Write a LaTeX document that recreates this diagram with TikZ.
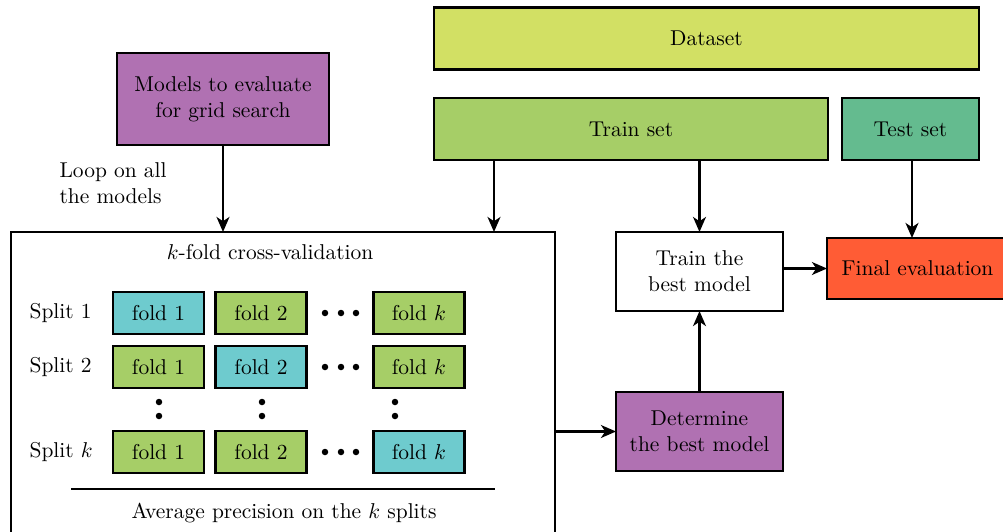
\documentclass[tikz,border=0pt]{standalone}
\usetikzlibrary{arrows.meta}
\definecolor{dscol}{HTML}{D2E064}
\definecolor{trcol}{HTML}{A6CE67}
\definecolor{tecol}{HTML}{64BB8F}
\definecolor{pucol}{HTML}{B071B2}
\definecolor{fecol}{HTML}{FF5C35}
\definecolor{cycol}{HTML}{6ECBCE}
\def\pu{0.466pt}
\tikzset{
  box/.style={draw, line width=1.35pt, inner sep=0pt, outer sep=0pt, align=center},
  fold/.style={box, minimum width=91*\pu, minimum height=42*\pu},
  gfold/.style={fold, fill=trcol},
  cfold/.style={fold, fill=cycol},
  arr/.style={line width=1.15pt, -{Stealth[length=7pt,width=6pt,inset=2pt]}},
  dot/.style={circle, fill=black, inner sep=0pt, minimum size=6.5*\pu},
}
\begin{document}
\begin{tikzpicture}[x=0.466pt,y=-0.466pt]
\useasboundingbox (0,0) rectangle (1003,532);
\clip (0,0) rectangle (1003,532);
% top boxes
\node[box, fill=dscol, minimum width=545*\pu, minimum height=62*\pu] (ds) at (706.5,38.5) {Dataset};
\node[box, fill=trcol, minimum width=394*\pu, minimum height=62*\pu] (train) at (631,129) {Train set};
\node[box, fill=tecol, minimum width=137*\pu, minimum height=62*\pu] (test) at (910.5,129) {Test set};
\node[box, fill=pucol, minimum width=212*\pu, minimum height=92*\pu] (models) at (223,99) {Models to evaluate\\for grid search};
\node[align=left, anchor=west] (loop) at (52,183) {Loop on all\\the models};
% big cv box
\node[box, minimum width=544*\pu, minimum height=316*\pu] (cv) at (283,390) {};
\node (cvtitle) at (270,252) {$k$-fold cross-validation};
% right column
\node[box, fill=white, minimum width=167*\pu, minimum height=79*\pu] (tb) at (699.5,271.5) {Train the\\best model};
\node[box, fill=fecol, minimum width=181*\pu, minimum height=61*\pu] (fe) at (917.5,268.5) {Final evaluation};
\node[box, fill=pucol, minimum width=167*\pu, minimum height=79*\pu] (det) at (699.5,431.5) {Determine\\the best model};
% splits
\node[anchor=west] (s1) at (22,313) {Split 1};
\node[anchor=west] (s2) at (22,367) {Split 2};
\node[anchor=west] (sk) at (22,452) {Split $k$};
\node[cfold] (f11) at (158.5,313) {fold 1};
\node[gfold] (f12) at (261,313) {fold 2};
\node[gfold] (f1k) at (419,313) {fold $k$};
\node[gfold] (f21) at (158.5,367) {fold 1};
\node[cfold] (f22) at (261,367) {fold 2};
\node[gfold] (f2k) at (419,367) {fold $k$};
\node[gfold] (fk1) at (158.5,452) {fold 1};
\node[gfold] (fk2) at (261,452) {fold 2};
\node[cfold] (fkk) at (419,452) {fold $k$};
% dots
\foreach \y in {313,367,452} {
  \foreach \x in {325,341,356} { \node[dot] at (\x,\y) {}; }
}
\foreach \x in {159,262,395} {
  \foreach \y in {402,416} { \node[dot] at (\x,\y) {}; }
}
\coordinate (la) at (71,489);
\coordinate (lb) at (495,489);
\draw[line width=1.35pt] (la) -- (lb);
\node (avg) at (284,513) {Average precision on the $k$ splits};
% arrows
\coordinate (cvin) at (494,232);
\draw[arr] (models.south) -- (models.south |- cv.north);
\draw[arr] (train.south -| cvin) -- (cvin);
\draw[arr] (train.south -| tb.north) -- (tb.north);
\coordinate (tein) at (912,238);
\draw[arr] (test.south -| tein) -- (tein);
\draw[arr] (tb.east |- fe.west) -- (fe.west);
\draw[arr] (det.north) -- (tb.south);
\draw[arr] (cv.east |- det.west) -- (det.west);
\end{tikzpicture}
\end{document}
